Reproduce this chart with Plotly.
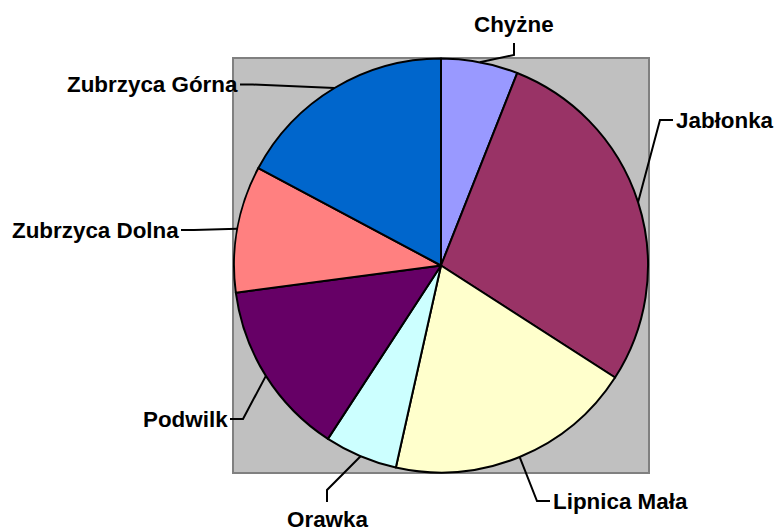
import math
import plotly.graph_objects as go

# ---- data ----
labels = ["Chyżne", "Jabłonka", "Lipnica Mała", "Orawka", "Podwilk",
          "Zubrzyca Dolna", "Zubrzyca Górna"]
values = [6.0, 28.1, 19.4, 5.7, 13.7, 9.9, 17.2]
colors = ["#9999FF", "#993366", "#FFFFCC", "#CCFFFF", "#660066", "#FF8080", "#0066CC"]

# ---- layout (pixels) ----
W, H = 775, 531
CX, CY, R = 441, 265.5, 207
PLOT_BOX = (233, 58, 649, 473)  # gray plot area
# where each leader line meets its label, and which side the label sits on
label_anchor = [(514, 43), (673, 120), (550, 501), (327, 502),
                (230, 419), (181, 230), (240, 84.5)]
label_side = ["top", "right", "right", "bottom", "left", "left", "left"]


def px(x):
    return x / W


def py(y):
    return 1 - y / H


fig = go.Figure()
fig.add_trace(go.Pie(
    labels=labels, values=values, sort=False, direction="clockwise",
    rotation=0, textinfo="none", hoverinfo="label+percent",
    marker=dict(colors=colors, line=dict(color="black", width=2)),
    domain=dict(x=[px(CX - R), px(CX + R)], y=[py(CY + R), py(CY - R)]),
    showlegend=False,
))

shapes = [dict(type="rect", xref="paper", yref="paper", layer="below",
               x0=px(PLOT_BOX[0]), x1=px(PLOT_BOX[2]),
               y0=py(PLOT_BOX[3]), y1=py(PLOT_BOX[1]),
               fillcolor="#C0C0C0", line=dict(color="#808080", width=2))]
annotations = []

total = sum(values)
cum = 0.0
font = dict(family="Liberation Sans, Arial, sans-serif", size=22.4, color="black", weight=700)
for lab, v, (ax, ay), side in zip(labels, values, label_anchor, label_side):
    mid = (cum + v / 2) / total * 2 * math.pi
    cum += v
    sx = CX + R * math.sin(mid)
    sy = CY - R * math.cos(mid)
    if side == "right":
        ex, ey = ax - 13, ay
        ann = dict(x=px(ax + 2), y=py(ay), xanchor="left", yanchor="middle")
    elif side == "left":
        ex, ey = ax + 13, ay
        ann = dict(x=px(ax - 1), y=py(ay), xanchor="right", yanchor="middle")
    elif side == "top":
        ex, ey = ax, ay + 12
        ann = dict(x=px(ax), y=py(ay - 5), xanchor="center", yanchor="bottom")
    else:
        ex, ey = ax, ay - 12
        ann = dict(x=px(ax), y=py(ay + 4), xanchor="center", yanchor="top")
    path = f"M {px(sx)},{py(sy)} L {px(ex)},{py(ey)} L {px(ax)},{py(ay)}"
    shapes.append(dict(type="path", xref="paper", yref="paper", path=path,
                       line=dict(color="black", width=2)))
    ann.update(text=lab, xref="paper", yref="paper", showarrow=False,
               font=font, borderpad=0)
    annotations.append(ann)

fig.update_layout(
    width=W, height=H, margin=dict(l=0, r=0, t=0, b=0),
    paper_bgcolor="white", plot_bgcolor="white",
    shapes=shapes, annotations=annotations,
)
fig.write_html("out.html", config={"displayModeBar": False},
               post_script="document.body.style.margin='0';document.body.style.overflow='hidden';")
